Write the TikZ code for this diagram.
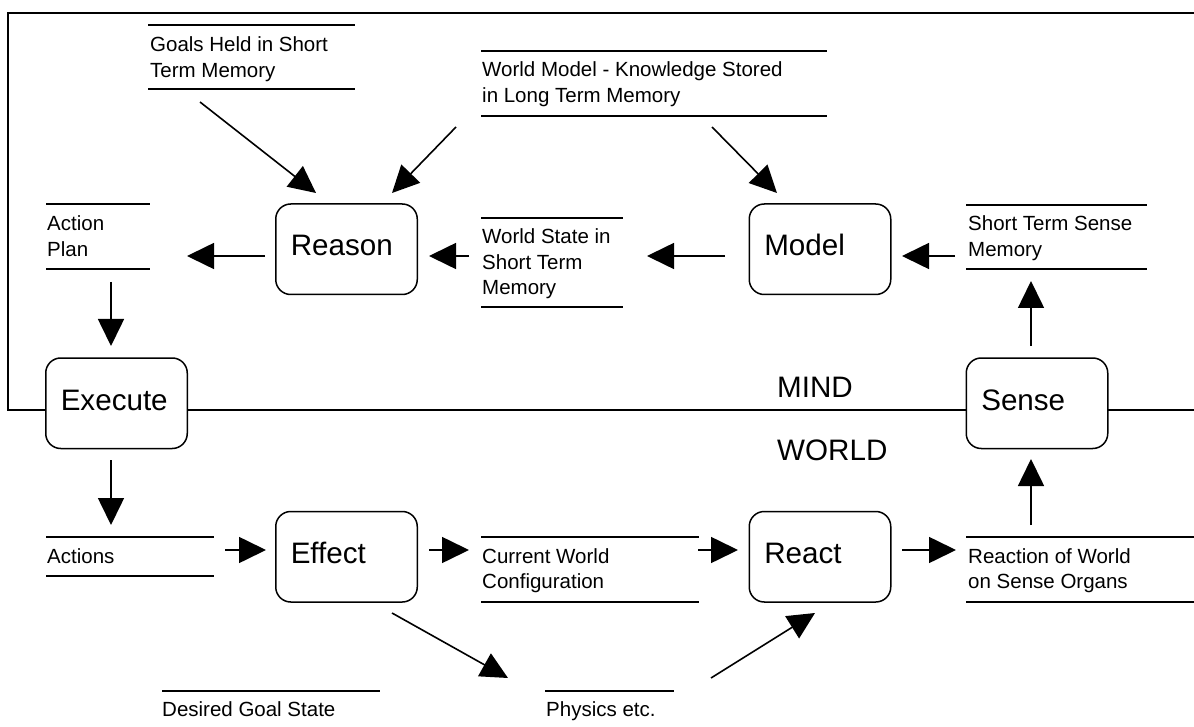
\documentclass[tikz,border=0pt]{standalone}
\usepackage{fontspec}
\setmainfont{Liberation Sans}
\usetikzlibrary{arrows.meta}
% two stacked text lines whose reference point is the first baseline
\newcommand\twoline[2]{\vtop{\hbox{#1}\hbox{#2}}}
\newcommand\threeline[3]{\vtop{\hbox{#1}\hbox{#2}\hbox{#3}}}
\begin{document}
\begin{tikzpicture}[x=1pt,y=-1pt,
  big/.style={font=\fontsize{29.6}{34}\selectfont},
  small/.style={font=\fontsize{20.5}{25.3}\selectfont},
  proc/.style={draw, fill=white, line width=1.5pt, rounded corners=15pt,
    big, text width=111.5pt, align=left, inner xsep=15pt, inner ysep=0pt,
    text height=52pt, text depth=38.5pt},
  storetext/.style={small, anchor=base west, inner sep=0pt},
  rule/.style={line width=1.6pt},
  flow/.style={-{Triangle[length=27pt,width=26pt]}, line width=1.6pt},
]
\useasboundingbox (0,0) rectangle (1194,727);

% frame of the mind and the mind/world divider
\draw[rule] (1194,13) -- (8,13) -- (8,410) -- (1194,410);
\node[big, anchor=base west, inner sep=0pt] (mind) at (777,397) {MIND};
\node[big, anchor=base west, inner sep=0pt] (world) at (777,460) {WORLD};

% processes
\node[proc] (reason)  at (346.5,249.25) {Reason};
\node[proc] (model)   at (820,249.25)   {Model};
\node[proc] (execute) at (116.5,403.25) {Execute};
\node[proc] (sense)   at (1037,403.25)  {Sense};
\node[proc] (effect)  at (346.5,556.75) {Effect};
\node[proc] (react)   at (820,556.75)   {React};

% data stores: text between two rules
\node[storetext] (goals) at (150,52) {\twoline{Goals Held in Short}{Term Memory}};
\draw[rule] (148,25) -- (355,25) (148,89) -- (355,89);

\node[storetext] (wmodel) at (482,77) {\twoline{World Model - Knowledge Stored}{in Long Term Memory}};
\draw[rule] (481,51) -- (827,51) (481,116) -- (827,116);

\node[storetext] (plan) at (47,231) {\twoline{Action}{Plan}};
\draw[rule] (46,204) -- (150,204) (46,269) -- (150,269);

\node[storetext] (wstate) at (482,244) {\threeline{World State in}{Short Term}{Memory}};
\draw[rule] (481,218) -- (623,218) (481,307) -- (623,307);

\node[storetext] (stsm) at (968,231) {\twoline{Short Term Sense}{Memory}};
\draw[rule] (966,205) -- (1147,205) (966,269) -- (1147,269);

\node[storetext] (actions) at (47,563) {Actions};
\draw[rule] (46,537) -- (214,537) (46,576) -- (214,576);

\node[storetext] (cwc) at (482,563) {\twoline{Current World}{Configuration}};
\draw[rule] (481,537) -- (699,537) (481,602) -- (699,602);

\node[storetext] (rwso) at (968,563) {\twoline{Reaction of World}{on Sense Organs}};
\draw[rule] (966,537) -- (1194,537) (966,602) -- (1194,602);

\node[storetext] (goal) at (162,716) {Desired Goal State};
\draw[rule] (162,691) -- (380,691);

\node[storetext] (physics) at (546,716) {Physics etc.};
\draw[rule] (545,691) -- (674,691);

% connector end points
\coordinate (goals-out)   at (200,102);
\coordinate (reason-in1)  at (316,193);
\coordinate (wmodel-out1) at (456,127);
\coordinate (reason-in2)  at (392,193);
\coordinate (wmodel-out2) at (712,127);
\coordinate (model-in)    at (777,193);
\coordinate (reason-out)  at (265,256);
\coordinate (plan-in)     at (187,256);
\coordinate (model-out)   at (725,256);
\coordinate (wstate-in)   at (647,256);
\coordinate (wstate-out)  at (469,256);
\coordinate (reason-in3)  at (429,256);
\coordinate (stsm-out)    at (955,256);
\coordinate (model-in2)   at (902,256);
\coordinate (sense-out)   at (1031,346);
\coordinate (stsm-in)     at (1031,281);
\coordinate (plan-out)    at (111,282);
\coordinate (execute-in)  at (111,346);
\coordinate (execute-out) at (111,460);
\coordinate (actions-in)  at (111,525);
\coordinate (actions-out) at (225,550);
\coordinate (effect-in)   at (266,550);
\coordinate (effect-out)  at (429,550);
\coordinate (cwc-in)      at (469,550);
\coordinate (cwc-out)     at (698,550);
\coordinate (react-in)    at (738,550);
\coordinate (react-out)   at (902,550);
\coordinate (rwso-in)     at (956,550);
\coordinate (rwso-out)    at (1031,525);
\coordinate (sense-in)    at (1031,459);
\coordinate (effect-out2) at (392,613);
\coordinate (physics-in)  at (508,678);
\coordinate (physics-out) at (711,678);
\coordinate (react-in2)   at (815,613);

% flows
\draw[flow] (goals-out)   -- (reason-in1);
\draw[flow] (wmodel-out1) -- (reason-in2);
\draw[flow] (wmodel-out2) -- (model-in);
\draw[flow] (reason-out)  -- (plan-in);
\draw[flow] (model-out)   -- (wstate-in);
\draw[flow] (wstate-out)  -- (reason-in3);
\draw[flow] (stsm-out)    -- (model-in2);
\draw[flow] (sense-out)   -- (stsm-in);
\draw[flow] (plan-out)    -- (execute-in);
\draw[flow] (execute-out) -- (actions-in);
\draw[flow] (actions-out) -- (effect-in);
\draw[flow] (effect-out)  -- (cwc-in);
\draw[flow] (cwc-out)     -- (react-in);
\draw[flow] (react-out)   -- (rwso-in);
\draw[flow] (rwso-out)    -- (sense-in);
\draw[flow] (effect-out2) -- (physics-in);
\draw[flow] (physics-out) -- (react-in2);
\end{tikzpicture}
\end{document}
